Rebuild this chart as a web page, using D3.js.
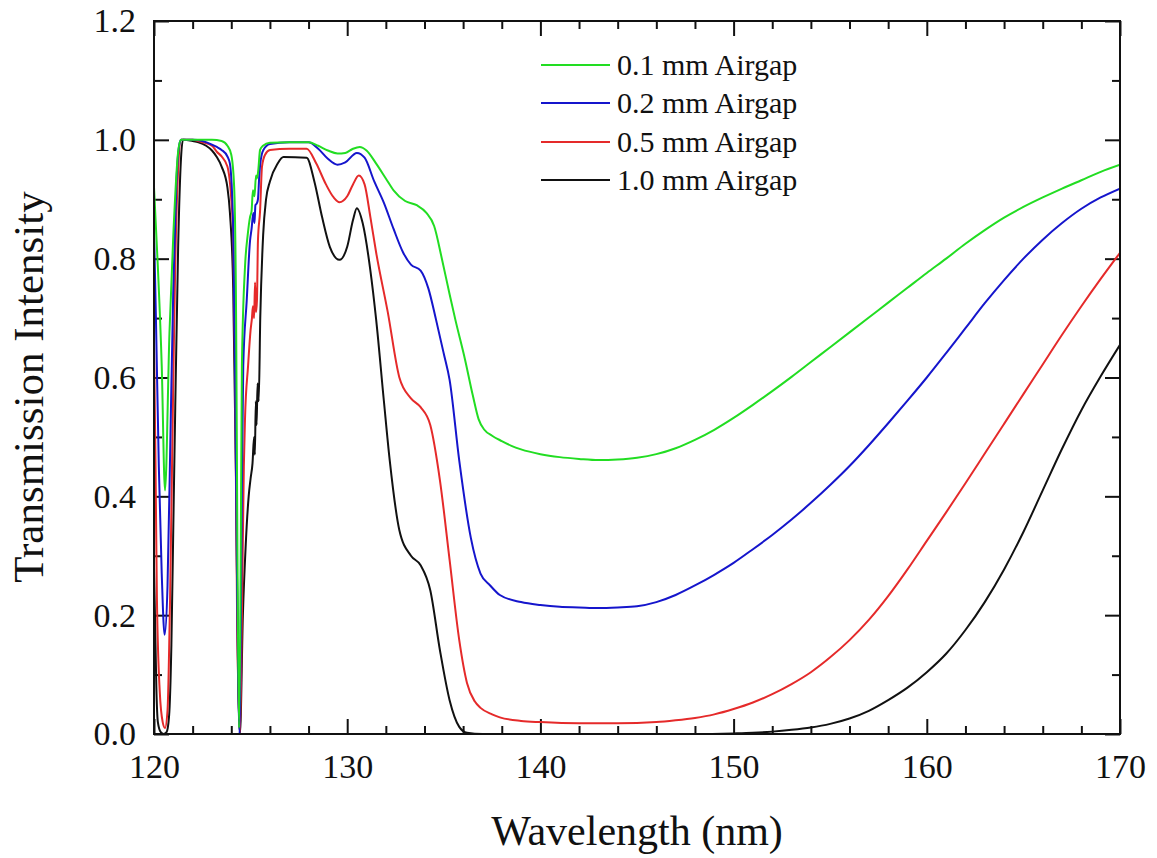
<!DOCTYPE html>
<html>
<head>
<meta charset="utf-8">
<script src="https://cdn.jsdelivr.net/npm/d3@7"></script>
<style>
  html, body { margin: 0; padding: 0; background: #fff; }
  svg { display: block; font-family: "Liberation Serif", "Times New Roman", serif; }
</style>
</head>
<body>
<svg id="chart" width="1157" height="858"></svg>
<script>
// Transmission spectra for four air-gap widths: [wavelength (nm), transmission]
const airgap01 = [
  [120.0,0.92],[120.2,0.786],[120.4,0.62],[120.57,0.41],[120.8,0.675],[121.0,0.84],[121.25,0.98],[121.4,1.0],
  [122.0,1.0],[123.0,1.0],[123.5,0.998],[123.8,0.99],[124.0,0.975],[124.15,0.92],[124.25,0.7],[124.32,0.3],
  [124.4,0.01],[124.47,0.2],[124.55,0.62],[124.71,0.786],[124.85,0.84],[124.97,0.87],[125.05,0.88],[125.12,0.915],
  [125.2,0.905],[125.28,0.94],[125.33,0.935],[125.4,0.95],[125.49,0.983],[125.64,0.99],[126.0,0.995],[127.0,0.996],
  [128.0,0.996],[128.5,0.99],[129.0,0.982],[129.5,0.977],[129.9,0.978],[130.3,0.985],[130.65,0.988],[131.0,0.982],
  [131.5,0.96],[132.0,0.935],[132.4,0.915],[133.0,0.897],[133.6,0.89],[134.1,0.877],[134.5,0.855],[134.9,0.8],
  [135.3,0.74],[135.6,0.697],[136.1,0.63],[136.5,0.57],[136.8,0.53],[137.1,0.512],[137.5,0.502],[138.0,0.493],
  [138.5,0.485],[139.0,0.479],[140.0,0.471],[141.0,0.466],[142.0,0.463],[143.0,0.461],[144.0,0.462],[145.0,0.465],
  [146.0,0.471],[147.0,0.481],[148.0,0.495],[149.0,0.512],[150.0,0.532],[151.0,0.554],[152.0,0.577],[153.0,0.601],
  [154.0,0.626],[155.0,0.651],[156.0,0.676],[157.0,0.701],[158.0,0.726],[159.0,0.751],[160.0,0.776],[161.0,0.8],
  [162.0,0.825],[163.0,0.848],[164.0,0.869],[165.0,0.887],[166.0,0.903],[167.0,0.918],[168.0,0.932],[169.0,0.946],
  [170.0,0.958]
];
const airgap02 = [
  [120.0,0.85],[120.1,0.7],[120.25,0.45],[120.4,0.27],[120.55,0.167],[120.7,0.25],[120.85,0.5],[121.0,0.75],
  [121.15,0.92],[121.3,0.99],[121.4,1.0],[122.0,1.0],[122.5,0.998],[123.0,0.992],[123.25,0.988],[123.5,0.983],
  [123.8,0.972],[123.93,0.96],[124.1,0.85],[124.2,0.6],[124.3,0.25],[124.43,0.0],[124.5,0.2],[124.56,0.45],
  [124.62,0.62],[124.8,0.73],[124.97,0.83],[125.05,0.85],[125.14,0.877],[125.2,0.86],[125.25,0.89],[125.32,0.893],
  [125.38,0.9],[125.45,0.94],[125.5,0.96],[125.66,0.983],[126.0,0.993],[127.0,0.996],[128.0,0.996],[128.5,0.985],
  [129.0,0.968],[129.5,0.958],[129.9,0.962],[130.5,0.978],[130.9,0.97],[131.4,0.93],[131.9,0.894],[132.4,0.85],
  [132.9,0.81],[133.3,0.79],[133.8,0.78],[134.2,0.75],[134.6,0.697],[135.0,0.64],[135.3,0.596],[135.8,0.46],
  [136.4,0.33],[136.9,0.27],[137.4,0.25],[137.9,0.234],[139.0,0.222],[140.0,0.217],[141.0,0.214],[142.0,0.213],
  [143.0,0.212],[144.0,0.213],[145.0,0.215],[146.0,0.222],[147.0,0.234],[148.0,0.25],[149.0,0.268],[150.0,0.288],
  [151.0,0.311],[152.0,0.335],[153.0,0.361],[154.0,0.389],[155.0,0.419],[156.0,0.451],[157.0,0.486],[158.0,0.523],
  [159.0,0.561],[160.0,0.6],[161.0,0.641],[162.0,0.683],[163.0,0.725],[164.0,0.764],[165.0,0.8],[166.0,0.832],
  [167.0,0.86],[168.0,0.884],[169.0,0.903],[170.0,0.918]
];
const airgap05 = [
  [120.0,0.66],[120.08,0.45],[120.15,0.23],[120.3,0.07],[120.45,0.02],[120.57,0.01],[120.7,0.04],[120.83,0.225],
  [121.0,0.6],[121.1,0.79],[121.25,0.95],[121.4,1.0],[122.0,1.0],[122.5,0.996],[123.0,0.99],[123.25,0.98],
  [123.5,0.972],[123.8,0.955],[124.0,0.9],[124.1,0.84],[124.2,0.6],[124.3,0.2],[124.45,0.0],[124.55,0.2],
  [124.65,0.45],[124.71,0.53],[124.87,0.62],[125.0,0.68],[125.07,0.70],[125.12,0.72],[125.18,0.7],[125.23,0.76],
  [125.28,0.71],[125.33,0.73],[125.38,0.83],[125.49,0.88],[125.59,0.955],[125.75,0.975],[126.0,0.983],[127.0,0.985],
  [127.9,0.985],[128.4,0.96],[128.9,0.925],[129.3,0.903],[129.6,0.895],[130.0,0.905],[130.3,0.925],[130.6,0.94],
  [130.9,0.925],[131.2,0.87],[131.5,0.81],[132.1,0.71],[132.7,0.6],[133.3,0.565],[133.8,0.55],[134.3,0.52],
  [134.8,0.427],[135.3,0.293],[135.8,0.158],[136.2,0.086],[136.6,0.055],[136.9,0.044],[137.5,0.033],[137.9,0.028],
  [139.0,0.022],[140.0,0.02],[142.0,0.018],[144.0,0.018],[146.0,0.02],[147.0,0.023],[148.0,0.027],[149.0,0.033],
  [150.0,0.042],[151.0,0.053],[152.0,0.067],[153.0,0.084],[154.0,0.104],[155.0,0.129],[156.0,0.158],[157.0,0.192],
  [158.0,0.232],[159.0,0.277],[160.0,0.325],[161.0,0.373],[162.0,0.422],[163.0,0.472],[164.0,0.522],[165.0,0.572],
  [166.0,0.622],[167.0,0.672],[168.0,0.72],[169.0,0.766],[170.0,0.81]
];
const airgap10 = [
  [120.0,0.28],[120.05,0.2],[120.12,0.08],[120.2,0.02],[120.35,0.003],[120.5,0.0],[120.65,0.003],[120.78,0.03],
  [120.9,0.15],[121.0,0.35],[121.1,0.55],[121.25,0.82],[121.4,0.97],[121.5,1.0],[122.0,0.998],[122.3,0.996],
  [122.7,0.99],[123.0,0.982],[123.25,0.971],[123.5,0.955],[123.8,0.92],[123.93,0.877],[124.1,0.75],[124.25,0.42],
  [124.35,0.1],[124.45,0.0],[124.6,0.2],[124.75,0.32],[124.9,0.40],[125.0,0.43],[125.1,0.456],[125.18,0.5],
  [125.22,0.47],[125.27,0.56],[125.31,0.52],[125.36,0.59],[125.42,0.56],[125.5,0.70],[125.65,0.84],[125.8,0.9],
  [126.0,0.93],[126.4,0.96],[126.7,0.971],[127.9,0.97],[128.3,0.93],[128.7,0.87],[129.1,0.82],[129.6,0.798],
  [130.0,0.82],[130.3,0.865],[130.5,0.885],[130.8,0.86],[131.2,0.78],[131.5,0.697],[131.9,0.56],[132.2,0.461],
  [132.7,0.343],[133.3,0.30],[133.8,0.284],[134.3,0.242],[134.8,0.141],[135.3,0.057],[135.8,0.012],[136.2,0.002],
  [137.0,0.0],[140.0,0.0],[145.0,0.0],[148.0,0.0],[150.0,0.001],[151.0,0.002],[152.0,0.004],[153.0,0.007],
  [154.0,0.011],[155.0,0.017],[156.0,0.026],[157.0,0.039],[158.0,0.057],[159.0,0.078],[160.0,0.104],[161.0,0.135],
  [162.0,0.175],[163.0,0.222],[164.0,0.277],[165.0,0.34],[166.0,0.41],[167.0,0.48],[168.0,0.545],[169.0,0.602],
  [170.0,0.655]
];

const seriesNames = ["0.1 mm Airgap", "0.2 mm Airgap", "0.5 mm Airgap", "1.0 mm Airgap"];
const seriesData = [airgap01, airgap02, airgap05, airgap10];
const seriesColors = ["#22dd22", "#1515cc", "#e52a2a", "#111111"];

const xMajorTicks = [120, 130, 140, 150, 160, 170];
const xMinorTicks = [122, 124, 126, 128, 132, 134, 136, 138, 142, 144, 146, 148, 152, 154, 156, 158, 162, 164, 166, 168];
const yMajorTicks = [0.0, 0.2, 0.4, 0.6, 0.8, 1.0, 1.2];
const yMinorTicks = [0.1, 0.3, 0.5, 0.7, 0.9, 1.1];

const svg = d3.select("#chart");
const plotLeft = 154, plotRight = 1120, plotTop = 21, plotBottom = 734;

const x = d3.scaleLinear().domain([120, 170]).range([plotLeft, plotRight]);
const y = d3.scaleLinear().domain([0, 1.2]).range([plotBottom, plotTop]);

const majorLen = 15, minorLen = 8;
const tickFont = 34;

function styleAxis(g) {
  g.select(".domain").remove();
  g.selectAll(".tick line").attr("stroke", "#111").attr("stroke-width", 2);
  g.selectAll(".tick text").attr("font-size", tickFont).attr("fill", "#111")
    .attr("font-family", "'Liberation Serif', 'Times New Roman', serif");
}

// bottom axis (labels + inward ticks)
svg.append("g").attr("transform", `translate(0,${plotBottom})`)
  .call(d3.axisBottom(x).tickValues(xMajorTicks).tickSizeInner(-majorLen).tickSizeOuter(0)
    .tickPadding(20).tickFormat(d3.format("d")))
  .call(styleAxis);
svg.append("g").attr("transform", `translate(0,${plotBottom})`)
  .call(d3.axisBottom(x).tickValues(xMinorTicks).tickSizeInner(-minorLen).tickSizeOuter(0).tickFormat(""))
  .call(styleAxis);

// top axis (ticks only)
svg.append("g").attr("transform", `translate(0,${plotTop})`)
  .call(d3.axisTop(x).tickValues(xMajorTicks).tickSizeInner(-majorLen).tickSizeOuter(0).tickFormat(""))
  .call(styleAxis);
svg.append("g").attr("transform", `translate(0,${plotTop})`)
  .call(d3.axisTop(x).tickValues(xMinorTicks).tickSizeInner(-minorLen).tickSizeOuter(0).tickFormat(""))
  .call(styleAxis);

// left axis (labels + inward ticks)
svg.append("g").attr("transform", `translate(${plotLeft},0)`)
  .call(d3.axisLeft(y).tickValues(yMajorTicks).tickSizeInner(-majorLen).tickSizeOuter(0)
    .tickPadding(18).tickFormat(d3.format(".1f")))
  .call(styleAxis);
svg.append("g").attr("transform", `translate(${plotLeft},0)`)
  .call(d3.axisLeft(y).tickValues(yMinorTicks).tickSizeInner(-minorLen).tickSizeOuter(0).tickFormat(""))
  .call(styleAxis);

// right axis (ticks only)
svg.append("g").attr("transform", `translate(${plotRight},0)`)
  .call(d3.axisRight(y).tickValues(yMajorTicks).tickSizeInner(-majorLen).tickSizeOuter(0).tickFormat(""))
  .call(styleAxis);
svg.append("g").attr("transform", `translate(${plotRight},0)`)
  .call(d3.axisRight(y).tickValues(yMinorTicks).tickSizeInner(-minorLen).tickSizeOuter(0).tickFormat(""))
  .call(styleAxis);

// clip for the spectra
svg.append("clipPath").attr("id", "plot-clip")
  .append("rect").attr("x", plotLeft).attr("y", plotTop)
  .attr("width", plotRight - plotLeft).attr("height", plotBottom - plotTop);

const line = d3.line()
  .x(d => x(d[0]))
  .y(d => y(d[1]))
  .curve(d3.curveMonotoneX);

const curves = svg.append("g").attr("clip-path", "url(#plot-clip)");
// widest gap drawn first, narrower gaps layered above it
[3, 2, 1, 0].forEach(i => {
  curves.append("path")
    .datum(seriesData[i])
    .attr("fill", "none")
    .attr("stroke", seriesColors[i])
    .attr("stroke-width", 2)
    .attr("stroke-linejoin", "round")
    .attr("d", line);
});

// plot frame
svg.append("rect")
  .attr("x", plotLeft).attr("y", plotTop)
  .attr("width", plotRight - plotLeft).attr("height", plotBottom - plotTop)
  .attr("fill", "none").attr("stroke", "#111").attr("stroke-width", 2);

// legend
const legend = svg.append("g");
const legendRowY = [65, 103, 142, 180];
seriesNames.forEach((name, i) => {
  legend.append("line")
    .attr("x1", 541).attr("x2", 610)
    .attr("y1", legendRowY[i]).attr("y2", legendRowY[i])
    .attr("stroke", seriesColors[i]).attr("stroke-width", 2);
  legend.append("text")
    .attr("x", 617).attr("y", legendRowY[i] + 10)
    .attr("font-size", 30).attr("fill", "#111")
    .text(name);
});

// axis titles
svg.append("text")
  .attr("x", (plotLeft + plotRight) / 2).attr("y", 845)
  .attr("text-anchor", "middle").attr("font-size", 42).attr("fill", "#111")
  .text("Wavelength (nm)");

svg.append("text")
  .attr("transform", "translate(43,387) rotate(-90)")
  .attr("text-anchor", "middle").attr("font-size", 43).attr("fill", "#111")
  .text("Transmission Intensity");
</script>
</body>
</html>
